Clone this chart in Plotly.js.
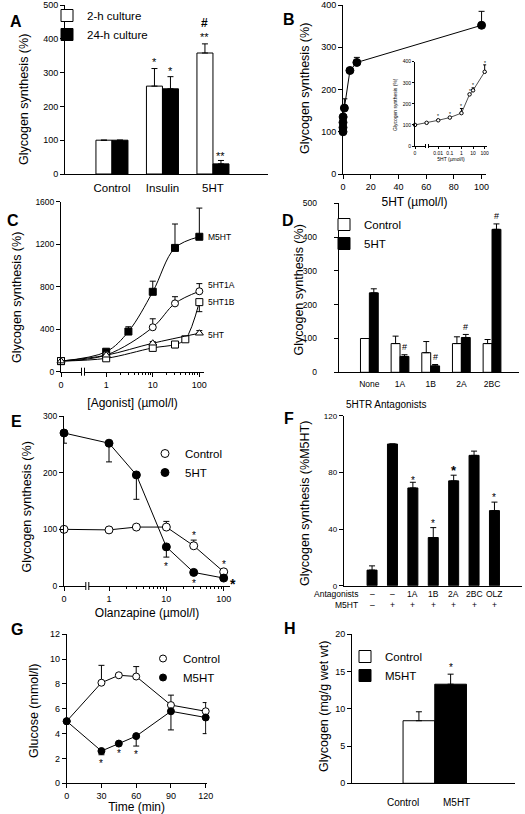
<!DOCTYPE html>
<html><head><meta charset="utf-8">
<script src="https://cdn.plot.ly/plotly-3.0.1.min.js"></script>
<style>
html,body{margin:0;padding:0;background:#fff;}
#chart{width:525px;height:814px;}
.xtitle{letter-spacing:0.5px;}
</style></head><body><div id="chart"></div><script>
// ---------------- DATA ----------------
// A
const catsA = ['Control', 'Insulin', '5HT'];
const a2h = [100, 260, 358], a2hErr = [null, 52, 27];
const a24h = [100, 252, 30], a24hErr = [null, 36, 10];
const aSigCat = [1, 1, 2, 2, 2], aSigSide = [-1, 1, -1, -1, 1];
const aSigText = ['*', '*', '**', '#', '**'], aSigY = [337, 310, 413, 446, 59];
// B
const bX = [0, 0.001, 0.01, 0.1, 1, 5, 10, 100];
const bY = [100, 110, 122, 135, 156, 245, 264, 352];
const bErr = [null, null, null, null, 22, 4, 12, 33];
const bSigX = [0.01, 0.1, 1, 5, 10, 100], bSigY = [146, 158, 196, 267, 292, 400];
const bTicks = [0, 0.01, 0.1, 1, 10, 100];
// C
const cM5X = [0, 1, 3, 10, 30, 100], cM5 = [100, 188, 378, 752, 1165, 1270], cM5Err = [null, null, 45, 100, 225, 270];
const c1AX = [0, 1, 10, 30, 100], c1A = [100, 157, 418, 643, 757], c1AErr = [null, null, 80, 63, 72];
const c1BX = [0, 1, 10, 30, 50, 100], c1B = [100, 126, 224, 256, 305, 655], c1BErrMinus = [null, null, null, 30, null, 90];
const c5X = [0, 1, 10, 100], c5 = [100, 155, 268, 362], c5Err = [null, null, 15, 25];
const cNames = ['M5HT', '5HT1A', '5HT1B', '5HT'];
const cTicks = [0, 1, 10, 100];
// D
const catsD = ['None', '1A', '1B', '2A', '2BC'];
const dCtrl = [100, 85, 58, 85, 85], dCtrlErr = [null, 22, 33, 20, 12];
const d5ht = [235, 47, 19, 103, 423], d5htErr = [12, 5, 4, 9, 16];
const dSigY = [null, 76, 46, 135, 462];
// E
const eX = [0, 1, 3, 10, 30, 100];
const eCtrl = [100, 99, 104, 104, 71, 25], eCtrlErr = [null, null, null, 10, 10, null];
const e5ht = [270, 252, 196, 69, 24, 14], e5htErrMinus = [18, 33, 43, 18, null, null];
const eSigX = [30, 100, 10, 30], eSigY = [93, 41, 38, 7.6];
// F
const fAnt = ['\u2013', '\u2013', '1A', '1B', '2A', '2BC', 'OLZ'];
const fM5 = ['\u2013', '+', '+', '+', '+', '+', '+'];
const fVal = [11, 100, 69, 34, 74, 92, 53], fErr = [3, null, 4, 7, 4, 3, 6];
const fSigIdx = [2, 3, 4, 6], fSigY = [75.8, 45, 82.8, 64];
// G
const gX = [0, 30, 45, 60, 90, 120];
const gCtrl = [5, 8.1, 8.7, 8.6, 6.3, 5.8], gCtrlErr = [null, 1.4, 0.1, 0.8, 0.8, 0.7];
const gM5 = [5, 2.6, 3.2, 3.8, 5.8, 5.3], gM5ErrMinus = [null, 0.3, null, 0.8, 1.5, 1.3];
const gSigX = [30, 45, 60], gSigY = [1.75, 2.55, 2.47];
// H
const hCats = ['Control', 'M5HT'];
const hVal = [8.4, 13.3], hErr = [1.2, 1.35];
// y-axis titles
const yTitles = ['Glycogen synthesis (%)', 'Glycogen synthesis (%)', 'Glycogen synthesis (%)', 'Glycogen synthesis (%)',
  'Glycogen synthesis (%)', 'Glycogen synthesis (%M5HT)', 'Glucose (mmol/l)', 'Glycogen (mg/g wet wt)'];

// ---------------- HELPERS ----------------
const W = 525, H = 814;
const FONT = '"Liberation Sans", Arial, Helvetica, sans-serif';
const xd = (a, b) => [a / W, b / W];
const yd = (top, bot) => [1 - bot / H, 1 - top / H];
const fx = p => p / W, fy = p => 1 - p / H;
const BLK = '#000';
function ax(o) {
  return Object.assign({
    showline: true, linecolor: BLK, linewidth: 1,
    ticks: 'outside', ticklen: 4, tickwidth: 1, tickcolor: BLK,
    showgrid: false, zeroline: false, fixedrange: true,
    tickfont: { family: FONT, size: 9, color: BLK }
  }, o);
}
function ttl(text, size, standoff) { return { text: text, font: { family: FONT, size: size, color: BLK }, standoff: standoff }; }
function errUp(arr, w) { return { type: 'data', symmetric: false, array: arr, arrayminus: arr.map(v => v == null ? null : 0), color: BLK, thickness: 1, width: w || 3 }; }
function errDn(arr, w) { return { type: 'data', symmetric: false, array: arr.map(v => v == null ? null : 0), arrayminus: arr, color: BLK, thickness: 1, width: w || 3 }; }
function txt(xref, yref, x, y, text, size, extra) {
  return Object.assign({ xref: xref, yref: yref, x: x, y: y, text: text, showarrow: false,
    font: { family: FONT, size: size, color: BLK } }, extra || {});
}
const STAR = s => -0.2 * s;
const C_ZERO = Math.pow(10, -0.97), E_ZERO = Math.pow(10, -0.785), B_ZERO = 1e-4;
const lg = (v, z) => v === 0 ? z : v;
const openMk = (sym, size) => ({ symbol: sym, size: size, color: '#fff', line: { color: BLK, width: 1 } });
const fillMk = (sym, size) => ({ symbol: sym, size: size, color: BLK, line: { color: BLK, width: 1 } });

const traces = [];
const ann = [];
const shapes = [];

// ---------- A ----------
const wA = 0.317;
traces.push({ type: 'bar', x: catsA, y: a2h, xaxis: 'x', yaxis: 'y', name: '2-h culture', legend: 'legend',
  width: wA, offset: -wA, marker: { color: '#fff', line: { color: BLK, width: 1 } }, error_y: errUp(a2hErr) });
traces.push({ type: 'bar', x: catsA, y: a24h, xaxis: 'x', yaxis: 'y', name: '24-h culture', legend: 'legend',
  width: wA, offset: 0, marker: { color: BLK, line: { color: BLK, width: 1 } }, error_y: errUp(a24hErr) });
aSigText.forEach((t, i) => {
  const s = t === '#' ? 12 : 11;
  ann.push(txt('x', 'y', aSigCat[i] + aSigSide[i] * wA / 2, aSigY[i], t === '#' ? '<b>#</b>' : t, s, { yshift: t === '#' ? 0 : STAR(s) }));
});

// ---------- B ----------
traces.push({ type: 'scatter', mode: 'lines+markers', x: bX, y: bY, xaxis: 'x2', yaxis: 'y2', showlegend: false,
  line: { color: BLK, width: 1 }, marker: fillMk('circle', 8), error_y: errUp(bErr), cliponaxis: false });
// inset
traces.push({ type: 'scatter', mode: 'lines+markers', x: bX.map(v => lg(v, B_ZERO)), y: bY, xaxis: 'x3', yaxis: 'y3', showlegend: false,
  line: { color: BLK, width: 0.7 }, marker: openMk('circle', 3.5), error_y: errUp(bErr, 1.5), cliponaxis: false });
bSigX.forEach((v, i) => ann.push(txt('x3', 'y3', Math.log10(v), bSigY[i], '*', 5, { yshift: STAR(5) })));

// ---------- C ----------
const cSeries = [
  { x: cM5X, y: cM5, e: errUp(cM5Err), mk: fillMk('square', 7) },
  { x: c1AX, y: c1A, e: errUp(c1AErr), mk: openMk('circle', 7) },
  { x: c1BX, y: c1B, e: errDn(c1BErrMinus), mk: openMk('square', 7) },
  { x: c5X, y: c5, e: errUp(c5Err), mk: openMk('triangle-up', 7) }
];
const cLabShift = [0, 6, 0, -2];
cSeries.forEach((s, i) => {
  const xs = s.x.map(v => lg(v, C_ZERO));
  traces.push({ type: 'scatter', mode: 'lines', x: xs, y: s.y, xaxis: 'x4', yaxis: 'y4', showlegend: false,
    line: { color: BLK, width: 1, shape: 'spline', smoothing: 1 } });
  traces.push({ type: 'scatter', mode: 'markers', x: xs, y: s.y, xaxis: 'x4', yaxis: 'y4', name: cNames[i], showlegend: false,
    marker: s.mk, error_y: s.e, cliponaxis: false });
  ann.push(txt('x4', 'y4', Math.log10(s.x[s.x.length - 1]), s.y[s.y.length - 1], cNames[i], 8.5,
    { xanchor: 'left', xshift: 7, yshift: cLabShift[i] }));
});

// ---------- D ----------
const wD = 0.29;
traces.push({ type: 'bar', x: catsD, y: dCtrl, xaxis: 'x5', yaxis: 'y5', name: 'Control', legend: 'legend2',
  width: wD, offset: -wD, marker: { color: '#fff', line: { color: BLK, width: 1 } }, error_y: errUp(dCtrlErr) });
traces.push({ type: 'bar', x: catsD, y: d5ht, xaxis: 'x5', yaxis: 'y5', name: '5HT', legend: 'legend2',
  width: wD, offset: 0, marker: { color: BLK, line: { color: BLK, width: 1 } }, error_y: errUp(d5htErr) });
dSigY.forEach((v, i) => { if (v != null) ann.push(txt('x5', 'y5', i + wD / 2, v, '#', 9)); });

// ---------- E ----------
const eXs = eX.map(v => lg(v, E_ZERO));
traces.push({ type: 'scatter', mode: 'lines', x: eXs, y: eCtrl, xaxis: 'x6', yaxis: 'y6', showlegend: false, line: { color: BLK, width: 1 } });
traces.push({ type: 'scatter', mode: 'lines', x: eXs, y: e5ht, xaxis: 'x6', yaxis: 'y6', showlegend: false, line: { color: BLK, width: 1 } });
traces.push({ type: 'scatter', mode: 'markers', x: eXs, y: eCtrl, xaxis: 'x6', yaxis: 'y6', name: 'Control', legend: 'legend3',
  marker: openMk('circle', 8), error_y: errUp(eCtrlErr), cliponaxis: false });
traces.push({ type: 'scatter', mode: 'markers', x: eXs, y: e5ht, xaxis: 'x6', yaxis: 'y6', name: '5HT', legend: 'legend3',
  marker: fillMk('circle', 8), error_y: errDn(e5htErrMinus), cliponaxis: false });
eSigX.forEach((v, i) => ann.push(txt('x6', 'y6', Math.log10(v), eSigY[i], '*', 10, { yshift: STAR(10) })));
// bold star to the right of the last 5HT point
ann.push(txt('x6', 'y6', Math.log10(eX[eX.length - 1]), e5ht[e5ht.length - 1], '<b>*</b>', 14, { xshift: 9, yshift: STAR(14) - 3 }));

// ---------- F ----------
const fIdx = fVal.map((v, i) => i);
traces.push({ type: 'bar', x: fIdx, y: fVal, xaxis: 'x7', yaxis: 'y7', showlegend: false, name: 'Glycogen synthesis',
  width: 0.49, offset: -0.245, marker: { color: BLK, line: { color: BLK, width: 1 } }, error_y: errUp(fErr) });
fSigIdx.forEach((k, i) => {
  const s = k === 4 ? 13 : 10;
  ann.push(txt('x7', 'y7', k, fSigY[i], k === 4 ? '<b>*</b>' : '*', s, { yshift: STAR(s) }));
});
fAnt.forEach((t, i) => ann.push(txt('x7', 'paper', i, fy(600.5), t, 8.5)));
fM5.forEach((t, i) => ann.push(txt('x7', 'paper', i, fy(612), t, 8.5)));
ann.push(txt('paper', 'paper', fx(360), fy(600.5), 'Antagonists', 8.5, { xanchor: 'right' }));
ann.push(txt('paper', 'paper', fx(360), fy(612), 'M5HT', 8.5, { xanchor: 'right' }));
ann.push(txt('paper', 'paper', fx(429), fy(405), '5HTR Antagonists', 10));

// ---------- G ----------
traces.push({ type: 'scatter', mode: 'lines', x: gX, y: gCtrl, xaxis: 'x8', yaxis: 'y8', showlegend: false, line: { color: BLK, width: 1 } });
traces.push({ type: 'scatter', mode: 'lines', x: gX, y: gM5, xaxis: 'x8', yaxis: 'y8', showlegend: false, line: { color: BLK, width: 1 } });
traces.push({ type: 'scatter', mode: 'markers', x: gX, y: gCtrl, xaxis: 'x8', yaxis: 'y8', name: 'Control', legend: 'legend4',
  marker: openMk('circle', 7), error_y: errUp(gCtrlErr), cliponaxis: false });
traces.push({ type: 'scatter', mode: 'markers', x: gX, y: gM5, xaxis: 'x8', yaxis: 'y8', name: 'M5HT', legend: 'legend4',
  marker: fillMk('circle', 7), error_y: errDn(gM5ErrMinus), cliponaxis: false });
gSigX.forEach((v, i) => ann.push(txt('x8', 'y8', v, gSigY[i], '*', 10, { yshift: STAR(10) })));

// ---------- H ----------
traces.push({ type: 'bar', x: [hCats[0]], y: [hVal[0]], xaxis: 'x9', yaxis: 'y9', name: hCats[0], legend: 'legend5',
  width: 1, offset: -0.5, marker: { color: '#fff', line: { color: BLK, width: 1 } }, error_y: errUp([hErr[0]]) });
traces.push({ type: 'bar', x: [hCats[1]], y: [hVal[1]], xaxis: 'x9', yaxis: 'y9', name: hCats[1], legend: 'legend5',
  width: 1, offset: -0.5, marker: { color: BLK, line: { color: BLK, width: 1 } }, error_y: errUp([hErr[1]]) });
ann.push(txt('x9', 'y9', 1, 15.75, '*', 10, { yshift: STAR(10) }));
const hLabShift = [-16, 6];
hCats.forEach((c, i) => ann.push(txt('x9', 'paper', i, fy(810), c, 10, { xshift: hLabShift[i] })));

// ---------- y-axis titles (placed beside each axis) ----------
const yTitlePos = [[24, 100], [305, 89], [17, 298], [298.5, 290], [26.5, 507], [305, 504], [34, 711], [324, 707]];
yTitles.forEach((t, i) => ann.push(txt('paper', 'paper', fx(yTitlePos[i][0]), fy(yTitlePos[i][1]), t, 12.5,
  { textangle: -90, xanchor: 'center', yanchor: 'middle' })));
ann.push(txt('paper', 'paper', fx(395), fy(105), 'Glycogen synthesis (%)', 5, { textangle: -90, xanchor: 'center', yanchor: 'middle' }));

// ---------- panel letters ----------
const letters = [['A', 8, 11], ['B', 289, 9], ['C', 5, 210], ['D', 288, 210], ['E', 9, 421], ['F', 289, 418], ['G', 9, 640], ['H', 290, 639]];
letters.forEach(l => ann.push(txt('paper', 'paper', fx(l[1]), fy(l[2]), '<b>' + l[0] + '</b>', 16)));

// ---------- axis breaks ----------
function brk(xp, yp, h) {
  shapes.push({ type: 'rect', xref: 'paper', yref: 'paper', x0: fx(xp - 1.5), x1: fx(xp + 1.5), y0: fy(yp + 1.5), y1: fy(yp - 1.5), fillcolor: '#fff', line: { width: 0 } });
  [-1.5, 1.5].forEach(d => shapes.push({ type: 'line', xref: 'paper', yref: 'paper', x0: fx(xp + d), x1: fx(xp + d), y0: fy(yp + h), y1: fy(yp - h), line: { color: BLK, width: 1 } }));
}
brk(83, 371.7, 4); brk(87.3, 586, 4); brk(427, 146, 2);

// ---------- layout ----------
const minorC = { ticks: 'outside', ticklen: 2, tickcolor: BLK, tickwidth: 1, tickmode: 'array', tickvals: [2, 3, 4, 5, 6, 7, 8, 9, 20, 30, 40, 50, 60, 70, 80, 90], showgrid: false };
const legBase = { xanchor: 'left', yanchor: 'top', bgcolor: 'rgba(0,0,0,0)', borderwidth: 0, font: { family: FONT, size: 11.5, color: BLK }, tracegroupgap: 0 };

const layout = {
  width: W, height: H, margin: { l: 0, r: 0, t: 0, b: 0 },
  paper_bgcolor: '#fff', plot_bgcolor: 'rgba(0,0,0,0)',
  font: { family: FONT, color: BLK }, showlegend: true,
  barmode: 'overlay',
  // A
  xaxis: ax({ domain: xd(65, 268), anchor: 'y', type: 'category', categoryorder: 'array', categoryarray: catsA, range: [-0.93, 3.09], ticks: '', tickfont: { family: FONT, size: 11.5, color: BLK }, ticklabelstandoff: 3 }),
  yaxis: ax({ domain: yd(5, 174), anchor: 'x', range: [0, 500], dtick: 100 }),
  // B
  xaxis2: ax({ domain: xd(343, 486), anchor: 'y2', range: [0, 103.2], dtick: 20, title: ttl('5HT (\u00b5mol/l)', 12, 6) }),
  yaxis2: ax({ domain: yd(5, 174), anchor: 'x2', range: [0, 400], dtick: 100 }),
  // B inset
  xaxis3: ax({ domain: xd(415, 487), anchor: 'y3', type: 'log', range: [-4, 2.2], tickmode: 'array', tickvals: bTicks.map(v => lg(v, B_ZERO)), ticktext: bTicks.map(String), ticklen: 2, tickfont: { family: FONT, size: 5, color: BLK }, title: ttl('5HT (\u00b5mol/l)', 5, 2) }),
  yaxis3: ax({ domain: yd(61.7, 146), anchor: 'x3', range: [0, 400], dtick: 100, ticklen: 2, tickfont: { family: FONT, size: 5, color: BLK } }),
  // C
  xaxis4: ax({ domain: xd(61, 204), anchor: 'y4', type: 'log', range: [-0.97, 2.1], tickmode: 'array', tickvals: cTicks.map(v => lg(v, C_ZERO)), ticktext: cTicks.map(String), minor: minorC, title: ttl('[Agonist] (\u00b5mol/l)', 12, 10) }),
  yaxis4: ax({ domain: yd(201.7, 371.7), anchor: 'x4', range: [0, 1600], dtick: 400, tickfont: { family: FONT, size: 8.5, color: BLK } }),
  // D
  xaxis5: ax({ domain: xd(338.7, 518.7), anchor: 'y5', type: 'category', categoryorder: 'array', categoryarray: catsD, range: [-1.0, 4.87], ticks: '', tickfont: { family: FONT, size: 8.5, color: BLK }, ticklabelstandoff: 3 }),
  yaxis5: ax({ domain: yd(203.3, 372.3), anchor: 'x5', range: [0, 500], dtick: 100, ticklabelstandoff: 15, tickfont: { family: FONT, size: 8.5, color: BLK } }),
  // E
  xaxis6: ax({ domain: xd(64, 230), anchor: 'y6', type: 'log', range: [-0.785, 2.11], tickmode: 'array', tickvals: cTicks.map(v => lg(v, E_ZERO)), ticktext: cTicks.map(String), minor: minorC, title: ttl('Olanzapine (\u00b5mol/l)', 12, 5) }),
  yaxis6: ax({ domain: yd(416, 586), anchor: 'x6', range: [0, 300], dtick: 100, tickfont: { family: FONT, size: 8.5, color: BLK } }),
  // F
  xaxis7: ax({ domain: xd(343.7, 522), anchor: 'y7', range: [-1.39, 7.35], ticks: '', showticklabels: false }),
  yaxis7: ax({ domain: yd(415.7, 585.7), anchor: 'x7', range: [0, 120], dtick: 40, tickfont: { family: FONT, size: 8, color: BLK } }),
  // G
  xaxis8: ax({ domain: xd(66.7, 206.5), anchor: 'y8', range: [0, 120.7], dtick: 30, title: ttl('Time (min)', 12, 10) }),
  yaxis8: ax({ domain: yd(634.3, 783.3), anchor: 'x8', range: [0, 12], dtick: 2 }),
  // H
  xaxis9: ax({ domain: xd(352, 515.3), anchor: 'y9', type: 'category', categoryorder: 'array', categoryarray: hCats, range: [-2.11, 3.04], ticks: '', showticklabels: false }),
  yaxis9: ax({ domain: yd(634.3, 783.3), anchor: 'x9', range: [0, 20], dtick: 5 }),
  legend: Object.assign({}, legBase, { x: fx(47), y: fy(1) }),
  legend2: Object.assign({}, legBase, { x: fx(324), y: fy(210) }),
  legend3: Object.assign({}, legBase, { x: fx(145), y: fy(439) }),
  legend4: Object.assign({}, legBase, { x: fx(143), y: fy(644) }),
  legend5: Object.assign({}, legBase, { x: fx(345), y: fy(642) }),
  annotations: ann,
  shapes: shapes
};

Plotly.newPlot('chart', traces, layout, { staticPlot: true, displayModeBar: false });
</script></body></html>
